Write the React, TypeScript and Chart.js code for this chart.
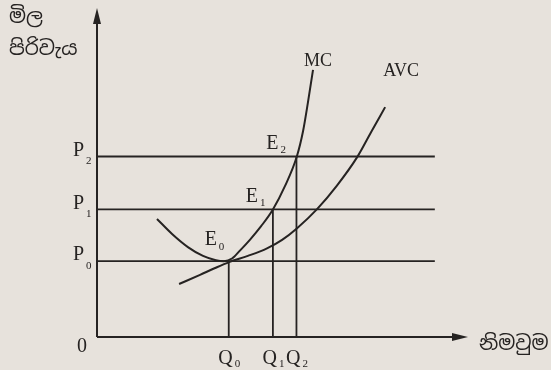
import React, { useEffect, useRef } from "react";
import { Chart, registerables } from "chart.js";

Chart.register(...registerables);

// Price levels P0, P1, P2 and quantities Q0, Q1, Q2
const priceNames = ["0", "1", "2"];
const priceLevels = [2.32, 3.9, 5.52];
const quantityLevels = [3.58, 4.78, 5.42];
const priceLineEnd = 9.18;

// MC curve
const mcX = [1.63, 2.04, 2.47, 2.88, 3.23, 3.45, 3.67, 3.89, 4.16, 4.46, 4.78, 5.11, 5.43, 5.6, 5.73, 5.87];
const mcY = [3.61, 3.15, 2.75, 2.48, 2.35, 2.32, 2.4, 2.65, 2.98, 3.39, 3.9, 4.62, 5.52, 6.3, 7.16, 8.17];

// AVC curve
const avcX = [2.23, 2.8, 3.21, 3.59, 4.1, 4.62, 5.03, 5.43, 5.98, 6.52, 7.07, 7.45, 7.83];
const avcY = [1.62, 1.9, 2.11, 2.29, 2.48, 2.71, 2.97, 3.32, 3.91, 4.63, 5.5, 6.27, 7.03];

const yTitle = ["මිල", "පිරිවැය"];
const xTitle = "නිමවුම";

const INK = "#262322";
const BG = "#e7e2dc";
const SERIF = '"Liberation Serif", "DejaVu Serif", serif';
const SINHALA = '"Noto Sans Sinhala", "Noto Serif Sinhala", "Noto Sans", sans-serif';

export default function App() {
  const ref = useRef<HTMLCanvasElement | null>(null);

  useEffect(() => {
    const canvas = ref.current;
    if (!canvas) return;

    const line = (data: { x: number; y: number }[], extra: any = {}) => ({
      data,
      showLine: true,
      borderColor: INK,
      borderWidth: 1.8,
      pointRadius: 0,
      fill: false,
      tension: 0,
      ...extra,
    });

    const datasets: any[] = [];
    priceLevels.forEach((p) => datasets.push(line([{ x: 0, y: p }, { x: priceLineEnd, y: p }])));
    quantityLevels.forEach((q, i) =>
      datasets.push(line([{ x: q, y: 0 }, { x: q, y: priceLevels[i] }]))
    );
    datasets.push(
      line(mcX.map((x, i) => ({ x, y: mcY[i] })), { cubicInterpolationMode: "monotone", borderWidth: 2 })
    );
    datasets.push(
      line(avcX.map((x, i) => ({ x, y: avcY[i] })), { cubicInterpolationMode: "monotone", borderWidth: 2 })
    );

    const overlay = {
      id: "overlay",
      beforeDraw(chart: any) {
        const c = chart.ctx;
        c.save();
        c.fillStyle = BG;
        c.fillRect(0, 0, chart.width, chart.height);
        c.restore();
      },
      afterDraw(chart: any) {
        const c = chart.ctx;
        const xs = chart.scales.x;
        const ys = chart.scales.y;
        const ox = xs.getPixelForValue(0);
        const oy = ys.getPixelForValue(0);
        const right = xs.getPixelForValue(10);
        const top = ys.getPixelForValue(10);
        c.save();
        c.strokeStyle = INK;
        c.fillStyle = INK;
        c.lineWidth = 2;
        // axes
        c.beginPath();
        c.moveTo(ox, oy);
        c.lineTo(ox, top + 8);
        c.moveTo(ox, oy);
        c.lineTo(right - 8, oy);
        c.stroke();
        // arrowheads
        c.beginPath();
        c.moveTo(ox, top - 2);
        c.lineTo(ox - 4, top + 14);
        c.lineTo(ox + 4, top + 14);
        c.closePath();
        c.fill();
        c.beginPath();
        c.moveTo(right + 3, oy);
        c.lineTo(right - 13, oy - 4);
        c.lineTo(right - 13, oy + 4);
        c.closePath();
        c.fill();

        c.textBaseline = "middle";
        // P labels
        priceLevels.forEach((p, i) => {
          const y = ys.getPixelForValue(p);
          c.font = `20px ${SERIF}`;
          c.textAlign = "right";
          c.fillText("P", ox - 13, y - 6);
          c.font = `11px ${SERIF}`;
          c.textAlign = "left";
          c.fillText(priceNames[i], ox - 11, y + 5);
        });
        // Q labels
        quantityLevels.forEach((q, i) => {
          const x = xs.getPixelForValue(q);
          c.font = `20px ${SERIF}`;
          c.textAlign = "right";
          c.fillText("Q", x + 4, oy + 22);
          c.font = `11px ${SERIF}`;
          c.textAlign = "left";
          c.fillText(priceNames[i], x + 6, oy + 27);
        });
        // origin
        c.font = `20px ${SERIF}`;
        c.textAlign = "center";
        c.fillText("0", ox - 15, oy + 10);

        // E labels near intersections
        const eOffsets = [
          [-18, -21],
          [-21, -13],
          [-24, -13],
        ];
        quantityLevels.forEach((q, i) => {
          const x = xs.getPixelForValue(q) + eOffsets[i][0];
          const y = ys.getPixelForValue(priceLevels[i]) + eOffsets[i][1];
          c.font = `20px ${SERIF}`;
          c.textAlign = "center";
          c.fillText("E", x, y);
          c.font = `11px ${SERIF}`;
          c.textAlign = "left";
          c.fillText(priceNames[i], x + 8, y + 7);
        });

        // curve names
        c.font = `18px ${SERIF}`;
        c.textAlign = "center";
        const mcEnd = mcX.length - 1;
        c.fillText("MC", xs.getPixelForValue(mcX[mcEnd]) + 5, ys.getPixelForValue(mcY[mcEnd]) - 9);
        const avEnd = avcX.length - 1;
        c.fillText("AVC", xs.getPixelForValue(avcX[avEnd]) + 16, ys.getPixelForValue(avcY[avEnd]) - 36);

        // Sinhala titles
        c.font = `20px ${SINHALA}`;
        c.textAlign = "left";
        c.fillText(yTitle[0], 9, 17);
        c.fillText(yTitle[1], 9, 49);
        c.fillText(xTitle, right + 14, oy + 7);
        c.restore();
      },
    };

    const chart = new Chart(canvas, {
      type: "scatter",
      data: { datasets },
      options: {
        animation: false,
        responsive: false,
        maintainAspectRatio: false,
        layout: { padding: { left: 97, right: 86, top: 10, bottom: 33 } },
        plugins: { legend: { display: false }, tooltip: { enabled: false } },
        scales: {
          x: { type: "linear", min: 0, max: 10, display: false },
          y: { type: "linear", min: 0, max: 10, display: false },
        },
      },
      plugins: [overlay],
    });
    return () => chart.destroy();
  }, []);

  return (
    <div style={{ position: "fixed", left: 0, top: 0, width: 551, height: 370, background: BG }}>
      <canvas ref={ref} width={551} height={370} style={{ display: "block", width: 551, height: 370 }} />
    </div>
  );
}
